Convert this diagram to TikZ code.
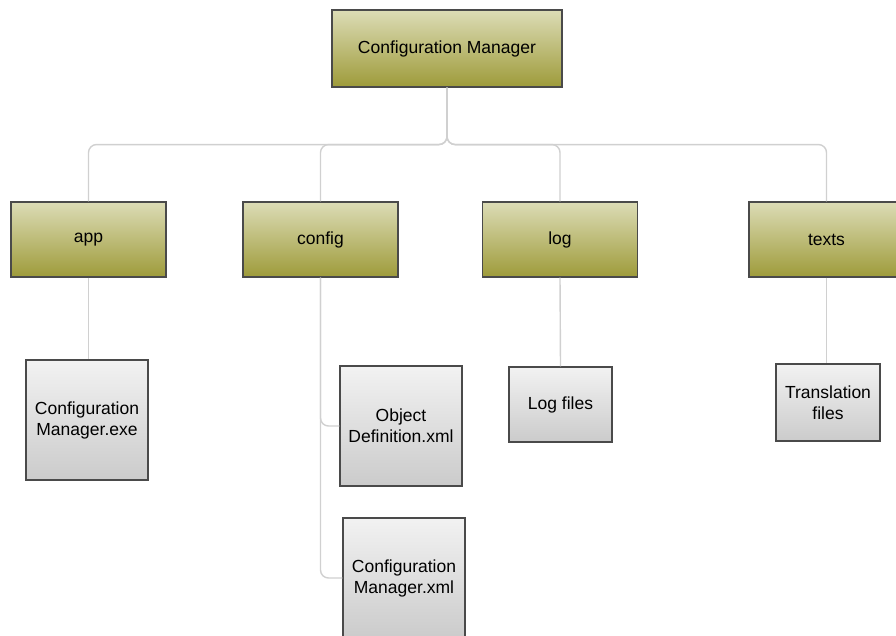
\documentclass[tikz,border=0pt]{standalone}
\usepackage{fontspec}
\setmainfont{Liberation Sans}
\definecolor{olivetop}{HTML}{DCDCB6}
\definecolor{olivebot}{HTML}{9E9B3A}
\definecolor{graytop}{HTML}{F2F2F2}
\definecolor{graybot}{HTML}{CBCBCB}
\definecolor{edgegray}{HTML}{4A4A4A}
\definecolor{linegray}{HTML}{D0D0D0}
\begin{document}
\begin{tikzpicture}[x=1pt, y=-1pt,
    folder/.style={draw=edgegray, line width=1.1pt, top color=olivetop, bottom color=olivebot,
        minimum width=155pt, minimum height=75pt, align=center,
        font=\fontsize{17.5}{21}\selectfont},
    file/.style={draw=edgegray, line width=1.1pt, top color=graytop, bottom color=graybot,
        minimum width=122pt, minimum height=120pt, align=center,
        font=\fontsize{17.5}{21}\selectfont},
    conn/.style={draw=linegray, line width=1.4pt, rounded corners=8pt}]

    \clip (0,0) rectangle (896,635);
    \fill[white] (0,0) rectangle (896,635);

    % top: (332, 10) -> (562, 87)
    \node[folder, minimum width=230pt, minimum height=77pt] (root) at (447,48.5) {Configuration Manager};

    % folders: y 202 -> 277
    \node[folder] (app) at (88.5,239.5) {app};
    \node[folder] (config) at (320.5,239.5) {config};
    \node[folder] (log) at (560,239.5) {log};
    \node[folder] (texts) at (826.5,239.5) {texts};

    % files
    \node[file] (exe) at (87,420) {Configuration\\Manager.exe};
    \node[file] (objdef) at (401,426) {Object\\Definition.xml};
    \node[file] (cmxml) at (404,578) {Configuration\\Manager.xml};
    \node[file, minimum width=103pt, minimum height=75pt] (logfiles) at (560.5,404.5) {Log files};
    \node[file, minimum width=104pt, minimum height=77pt] (trans) at (828,402.5) {Translation\\files};

    % root -> folders, bus at y = 144
    \draw[conn] (root.south) -- ++(0,57) -| (app.north);
    \draw[conn] (root.south) -- ++(0,57) -| (config.north);
    \draw[conn] (root.south) -- ++(0,57) -| (log.north);
    \draw[conn] (root.south) -- ++(0,57) -| (texts.north);

    % folders -> files
    \draw[conn] (app.south) -- (app.south |- exe.north);
    \draw[conn] (config.south) |- (objdef.west);
    \draw[conn] (config.south) |- (cmxml.west);
    \draw[conn] (log.south) -- (logfiles.north);
    \draw[conn] (texts.south) -- (texts.south |- trans.north);

\end{tikzpicture}
\end{document}
